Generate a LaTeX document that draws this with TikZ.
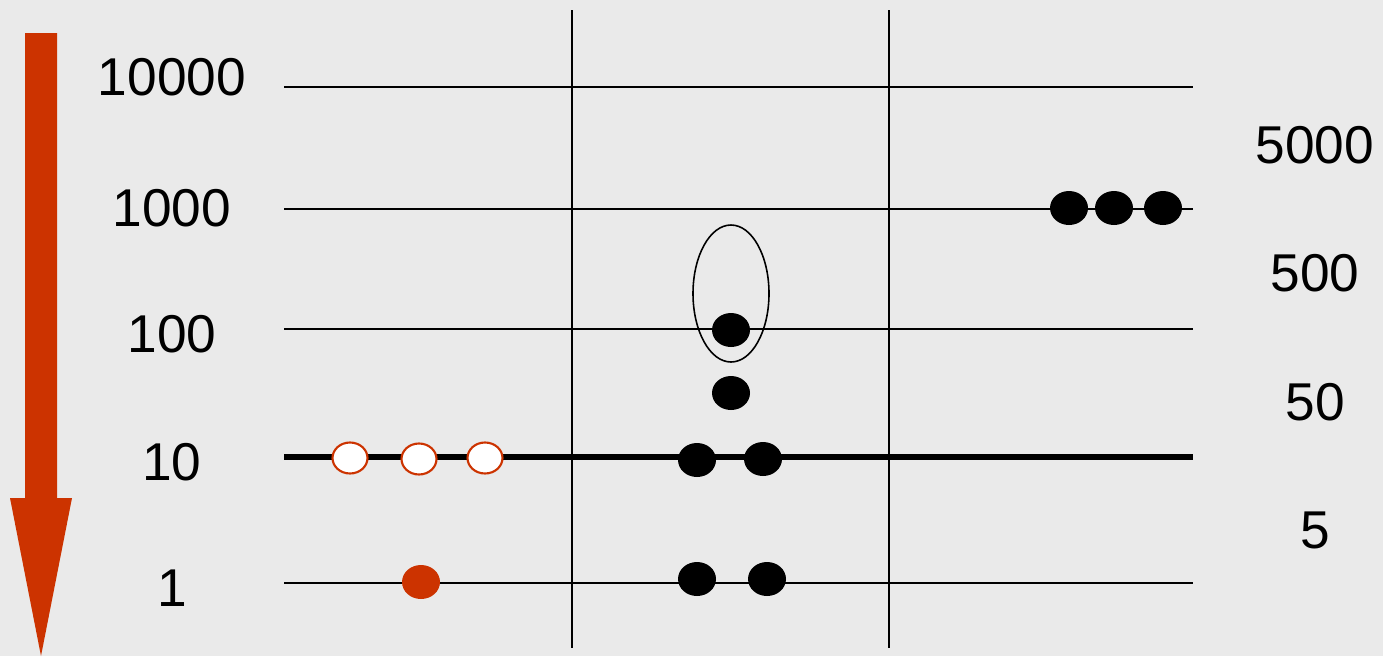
\documentclass[tikz,border=0pt]{standalone}
\usepackage{fontspec}
\setmainfont{Liberation Sans}
\usetikzlibrary{shapes.geometric}
\definecolor{bg}{HTML}{EAEAEA}
\definecolor{rust}{HTML}{CC3300}
\begin{document}
\begin{tikzpicture}[x=0.02cm,y=-0.02cm,
  lbl/.style={font=\fontsize{30.3}{33}\selectfont, inner sep=0pt},
  dot/.style={ellipse, fill=black, minimum width=38*0.02cm, minimum height=34*0.02cm, inner sep=0pt},
  rdot/.style={ellipse, fill=rust, minimum width=38*0.02cm, minimum height=34*0.02cm, inner sep=0pt},
  odot/.style={ellipse, draw=rust, line width=1.2pt, fill=white, minimum width=35*0.02cm, minimum height=31*0.02cm, inner sep=0pt},
  thin/.style={line width=1.1pt},
  thick3/.style={line width=3.4pt}]
\fill[bg] (0,0) rectangle (1383,656);
\useasboundingbox (0,0) rectangle (1383,656);
% arrow
\fill[rust] (25,33) -- (57,33) -- (57,498) -- (72,498) -- (41,656) -- (10,498) -- (25,498) -- cycle;
% horizontal lines
\foreach \n/\y in {a/87,b/209,c/329,e/583}{
  \coordinate (L\n) at (284,\y); \coordinate (R\n) at (1193,\y);
  \draw[thin] (L\n) -- (R\n);}
\coordinate (Ld) at (284,457); \coordinate (Rd) at (1193,457);
\draw[thick3] (Ld) -- (Rd);
% vertical lines
\coordinate (V1t) at (572,10); \coordinate (V1b) at (572,648);
\coordinate (V2t) at (889,10); \coordinate (V2b) at (889,648);
\draw[thin] (V1t) -- (V1b);
\draw[thin] (V2t) -- (V2b);
% labels left
\node[lbl] (l10000) at (172,77) {10000};
\node[lbl] (l1000) at (172,208) {1000};
\node[lbl] (l100) at (172,334) {100};
\node[lbl] (l10) at (172,462) {10};
\node[lbl] (l1) at (172,588) {1};
% labels right
\node[lbl] (r5000) at (1315,145) {5000};
\node[lbl] (r500) at (1315,273) {500};
\node[lbl] (r50) at (1315,402) {50};
\node[lbl] (r5) at (1315,530) {5};
% dots
\node[dot] (d1) at (1069,208) {};
\node[dot] (d2) at (1114,208) {};
\node[dot] (d3) at (1163,208) {};
\node[dot] (m1) at (731,330) {};
\node[dot] (m2) at (731,393) {};
\node[dot] (m3) at (697,460) {};
\node[dot] (m4) at (763,459) {};
\node[dot] (m5) at (697,579) {};
\node[dot] (m6) at (767,579) {};
\node[odot] (o1) at (350,458) {};
\node[odot] (o2) at (419,459) {};
\node[odot] (o3) at (485,458) {};
\node[rdot] (f1) at (421,582) {};
% ring
\node[ellipse, draw, line width=0.9pt, minimum width=76*0.02cm, minimum height=137*0.02cm, inner sep=0pt] (ring) at (731,293.5) {};
\end{tikzpicture}
\end{document}
